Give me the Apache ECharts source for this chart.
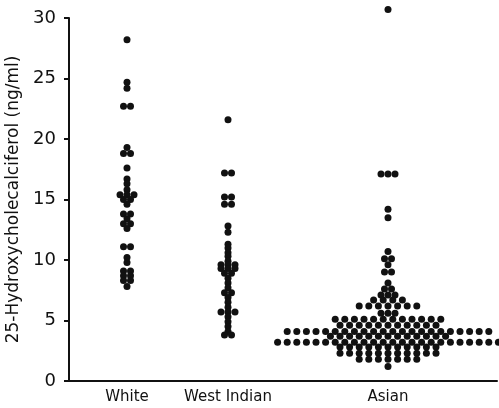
<!DOCTYPE html>
<html><head><meta charset="utf-8">
<script src="https://cdn.jsdelivr.net/npm/echarts@6/dist/echarts.min.js"></script>
<style>html,body{margin:0;padding:0;background:#fff}#c{width:499px;height:408px}</style>
</head><body><div id="c"></div>
<script>
// ---- data ----
const categories = ['White', 'West Indian', 'Asian'];
const yTicks = [0, 5, 10, 15, 20, 25, 30];
const white = [28.2, 24.7, 24.2, 22.7, 22.7, 19.3, 18.8, 18.8, 17.6, 16.7, 16.3, 15.8,
  15.4, 15.4, 15.4, 15.0, 15.0, 14.6, 13.8, 13.8, 13.4, 13.0, 13.0, 12.6, 11.1, 11.1,
  10.2, 9.8, 9.1, 9.1, 8.7, 8.7, 8.3, 8.3, 7.8];
const westIndian = [21.6, 17.2, 17.2, 15.2, 15.2, 14.6, 14.6, 12.8, 12.3, 11.3, 11.0,
  10.6, 10.3, 9.9, 9.6, 9.6, 9.6, 9.3, 9.3, 9.3, 8.9, 8.9, 8.5, 8.1, 7.7, 7.3, 7.3,
  6.9, 6.5, 6.1, 5.7, 5.7, 5.7, 5.3, 4.9, 4.5, 4.1, 3.8, 3.8];
const asian = [30.7, 17.1, 17.1, 17.1, 14.2, 13.5, 10.7, 10.1, 10.1, 9.6, 9.0, 9.0,
  8.1, 7.6, 7.6, 7.1, 7.1, 7.1, 6.7, 6.7, 6.7, 6.7,
  6.2, 6.2, 6.2, 6.2, 6.2, 6.2, 6.2, 5.6, 5.6, 5.6,
  5.1, 5.1, 5.1, 5.1, 5.1, 5.1, 5.1, 5.1, 5.1, 5.1, 5.1, 5.1,
  4.6, 4.6, 4.6, 4.6, 4.6, 4.6, 4.6, 4.6, 4.6, 4.6, 4.6,
  4.1, 4.1, 4.1, 4.1, 4.1, 4.1, 4.1, 4.1, 4.1, 4.1, 4.1, 4.1, 4.1, 4.1, 4.1, 4.1, 4.1, 4.1, 4.1, 4.1, 4.1, 4.1,
  3.7, 3.7, 3.7, 3.7, 3.7, 3.7, 3.7, 3.7, 3.7, 3.7, 3.7, 3.7, 3.7,
  3.2, 3.2, 3.2, 3.2, 3.2, 3.2, 3.2, 3.2, 3.2, 3.2, 3.2, 3.2, 3.2, 3.2, 3.2, 3.2, 3.2, 3.2, 3.2, 3.2, 3.2, 3.2, 3.2, 3.2,
  2.8, 2.8, 2.8, 2.8, 2.8, 2.8, 2.8, 2.8, 2.8, 2.8, 2.8,
  2.3, 2.3, 2.3, 2.3, 2.3, 2.3, 2.3, 2.3, 2.3, 2.3, 2.3,
  1.8, 1.8, 1.8, 1.8, 1.8, 1.8, 1.8, 1.2];

// ---- layout ----
const groups = [white, westIndian, asian];
const centers = [58, 159, 319];
const FONT = 'DejaVu Sans';
const INK = '#111';

function swarm(vals, cx) {
  const counts = new Map();
  vals.forEach(v => counts.set(v, (counts.get(v) || 0) + 1));
  const pts = [];
  counts.forEach((n, v) => {
    const step = n <= 3 ? 7 : 9.6;
    for (let i = 0; i < n; i++) pts.push([cx + (i - (n - 1) / 2) * step, v]);
  });
  return pts;
}

const chart = echarts.init(document.getElementById('c'), null, { renderer: 'canvas' });
chart.setOption({
  animation: false,
  backgroundColor: '#fff',
  grid: { left: 69, right: 2, top: 18, bottom: 27, containLabel: false, outerBoundsMode: 'none' },
  xAxis: {
    type: 'value', min: 0, max: 428,
    axisLine: { show: true, lineStyle: { color: INK, width: 2 } },
    axisTick: { show: false },
    splitLine: { show: false },
    axisLabel: {
      customValues: centers,
      formatter: v => categories[centers.indexOf(v)] || '',
      color: INK, fontSize: 15, margin: 9, fontFamily: FONT
    }
  },
  yAxis: {
    type: 'value', min: yTicks[0], max: yTicks[yTicks.length - 1], interval: 5,
    axisLine: { show: true, lineStyle: { color: INK, width: 2 } },
    axisTick: { show: true, length: 5, lineStyle: { color: INK, width: 2 } },
    splitLine: { show: false },
    axisLabel: { color: INK, fontSize: 18, margin: 13, fontFamily: FONT },
    name: '25-Hydroxycholecalciferol (ng/ml)',
    nameLocation: 'middle', nameGap: 43,
    nameTextStyle: { color: INK, fontSize: 17, fontFamily: FONT }
  },
  series: groups.map((g, i) => ({
    type: 'scatter',
    name: categories[i],
    data: swarm(g, centers[i]),
    symbol: 'circle',
    symbolSize: 7,
    clip: false,
    silent: true,
    itemStyle: { color: INK, opacity: 1 }
  }))
});
</script>
</body></html>
